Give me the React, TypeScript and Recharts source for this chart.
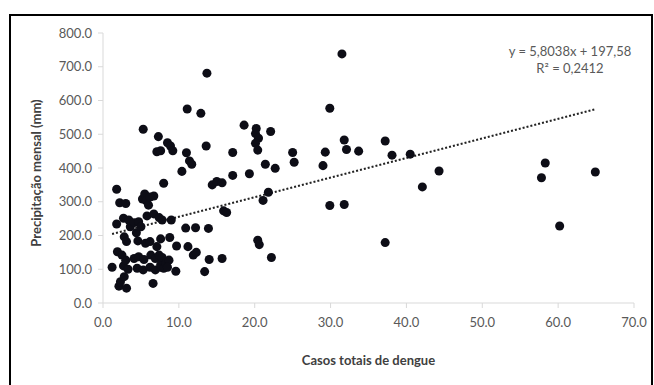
import React from 'react';
import {
  ScatterChart,
  Scatter,
  XAxis,
  YAxis,
  ZAxis,
  ReferenceLine,
  Customized,
  Label,
} from 'recharts';

// casos totais de dengue (x) vs precipitação mensal em mm (y)
const casos = [
  1.2, 1.8, 1.8, 1.9, 2.2, 3.0, 2.1, 2.3, 2.8, 3.1, 2.5, 2.7, 2.7, 2.8, 3.1, 3.0, 3.3, 3.4, 3.6, 4.1,
  4.1, 4.4, 4.5, 4.6, 4.7, 4.7, 5.0, 5.2, 5.3, 5.3, 5.4, 5.5, 5.6, 5.7, 5.8, 6.0, 6.2, 6.2, 6.3, 6.6,
  6.7, 6.7, 6.9, 6.9, 7.1, 7.1, 7.3, 7.4, 7.6, 7.6, 7.6, 7.6, 7.4, 7.8, 7.8, 8.0, 8.0, 8.3, 8.7, 8.5,
  8.5, 8.8, 8.9, 9.0, 9.2, 9.6, 9.7, 6.2,
  10.4, 10.9, 11.0, 11.1, 11.2, 11.4, 11.7, 11.9, 12.3, 12.2, 12.9, 13.4, 13.6, 13.7, 14.0, 13.9,
  14.4, 15.0, 15.7, 15.7, 15.9, 16.3, 17.1, 17.1, 18.6, 19.3, 20.2, 20.1, 20.5, 20.1, 20.4, 21.4,
  21.1, 21.8, 20.4, 20.6, 22.1, 22.2, 22.7, 25.0, 25.2, 29.0, 29.3, 29.9, 29.9, 31.5, 31.8, 32.1,
  31.8, 33.7, 37.2, 37.2, 38.1, 40.5, 42.1, 44.3, 57.8, 58.3, 60.2, 64.9,
];

const precipitacao = [
  106, 337, 234, 152, 297, 295, 50, 63, 78, 44, 142, 110, 251, 196, 182, 127, 100, 246, 226, 238,
  132, 208, 103, 184, 241, 137, 226, 308, 515, 98, 129, 323, 177, 303, 258, 290, 182, 106, 142, 58,
  264, 317, 132, 98, 167, 448, 493, 253, 190, 106, 451, 113, 142, 135, 246, 355, 103, 118, 127, 106,
  475, 194, 465, 246, 451, 94, 169, 314,
  390, 222, 445, 575, 167, 421, 411, 142, 150, 223, 562, 93, 465, 681, 129, 221,
  350, 360, 356, 132, 273, 268, 446, 378, 527, 383, 517, 502, 488, 473, 453, 411,
  304, 328, 186, 173, 508, 135, 399, 446, 417, 407, 447, 577, 289, 738, 483, 455,
  292, 450, 480, 179, 438, 441, 344, 391, 371, 415, 228, 388,
];

const xTicks = [0, 10, 20, 30, 40, 50, 60, 70];
const yTicks = [0, 100, 200, 300, 400, 500, 600, 700, 800];

// linha de tendência linear (Excel)
const slope = 5.8038;
const intercept = 197.58;
const equacao = 'y = 5,8038x + 197,58';
const r2 = 'R² = 0,2412';

const data = casos.map((x, i) => ({ x, y: precipitacao[i] }));
const xMin = Math.min(...casos);
const xMax = Math.max(...casos);

const font = 'Lato, "Open Sans", sans-serif';

const Equation = () => (
  <g fontFamily={font} fontSize={13} fill="#595959" textAnchor="middle">
    <text x={570} y={56}>{equacao}</text>
    <text x={570} y={73}>{r2}</text>
  </g>
);

const YTitle = (props: any) => {
  const { viewBox } = props;
  const cx = 36;
  const cy = viewBox.y + viewBox.height / 2 + 5;
  return (
    <text
      x={cx}
      y={cy}
      transform={`rotate(-90 ${cx} ${cy})`}
      textAnchor="middle"
      dominantBaseline="central"
      fontFamily={font}
      fontSize={13}
      fontWeight="bold"
      fill="#404040"
    >
      Precipitação mensal (mm)
    </text>
  );
};

export default function App() {
  return (
    <div style={{ position: 'absolute', left: 0, top: 0, width: 654, height: 385, background: '#fff' }}>
      <div
        style={{
          position: 'absolute',
          left: 9,
          top: 14,
          width: 640,
          height: 380,
          borderTop: '2px solid #000',
          borderLeft: '2px solid #000',
          borderRight: '2px solid #000',
        }}
      />
      <ScatterChart width={654} height={385} margin={{ top: 33, right: 20, left: 0, bottom: 0 }}>
        <XAxis
          type="number"
          dataKey="x"
          domain={[0, 70]}
          ticks={xTicks}
          tickFormatter={(v: number) => v.toFixed(1)}
          height={82}
          tickSize={5}
          tickMargin={10}
          stroke="#d9d9d9"
          tick={{ fill: '#595959', fontSize: 13, fontFamily: font }}
        >
          <Label
            value="Casos totais de dengue"
            position="insideBottom"
            offset={20}
            fill="#404040"
            fontSize={13}
            fontWeight="bold"
            fontFamily={font}
          />
        </XAxis>
        <YAxis
          type="number"
          dataKey="y"
          domain={[0, 800]}
          ticks={yTicks}
          tickFormatter={(v: number) => v.toFixed(1)}
          width={103}
          tickSize={5}
          tickMargin={6}
          stroke="#d9d9d9"
          tick={{ fill: '#595959', fontSize: 13, fontFamily: font }}
          label={{ content: YTitle }}
        />
        <ZAxis range={[64, 64]} />
        <Scatter data={data} fill="#0d0d16" shape="circle" isAnimationActive={false} />
        <ReferenceLine
          segment={[
            { x: xMin, y: slope * xMin + intercept },
            { x: xMax, y: slope * xMax + intercept },
          ]}
          stroke="#222"
          strokeWidth={2}
          strokeDasharray="2 2"
        />
        <Customized component={Equation} />
      </ScatterChart>
    </div>
  );
}
